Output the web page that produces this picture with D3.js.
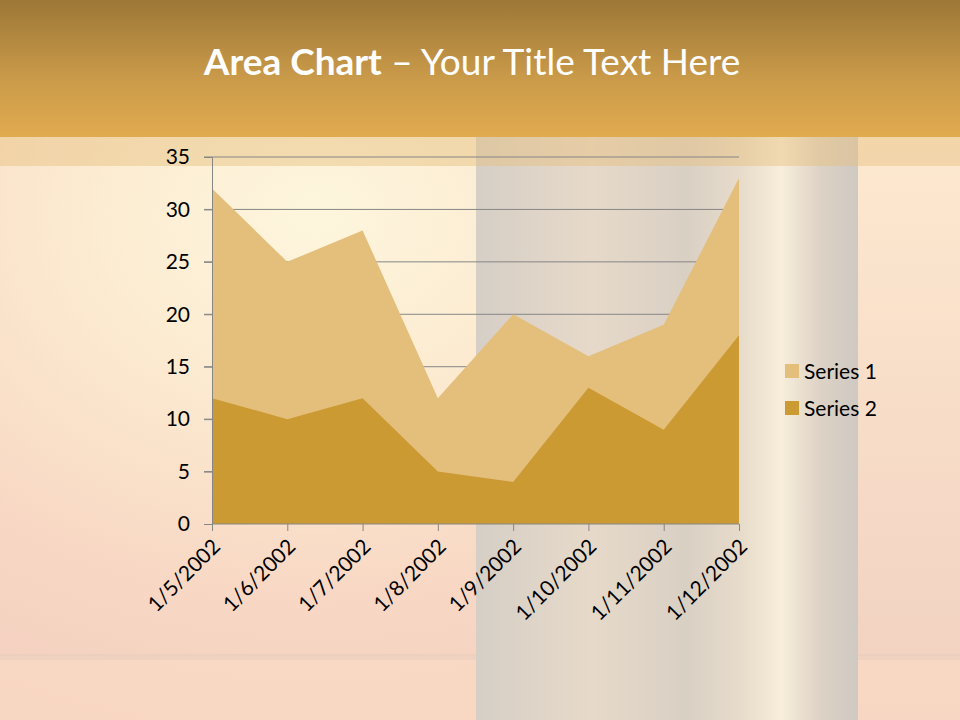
<!DOCTYPE html>
<html><head><meta charset="utf-8">
<script src="https://cdn.jsdelivr.net/npm/d3@7"></script>
<style>html,body{margin:0;padding:0;}svg{display:block;}</style>
</head><body>
<script>
const categories = ["1/5/2002","1/6/2002","1/7/2002","1/8/2002","1/9/2002","1/10/2002","1/11/2002","1/12/2002"];
const series1 = [32, 25, 28, 12, 20, 16, 19, 33];
const series2 = [12, 10, 12, 5, 4, 13, 9, 18];
const seriesNames = ["Series 1", "Series 2"];
const seriesColors = ["#e4be7b", "#cc9a33"];
const yTicks = [0, 5, 10, 15, 20, 25, 30, 35];

const W = 960, H = 720;
const svg = d3.select("body").append("svg").attr("width", W).attr("height", H);
const defs = svg.append("defs");
const font = "Lato, 'Open Sans', sans-serif";

// Background
const rg = defs.append("radialGradient").attr("id","bgrad").attr("cx","0.33").attr("cy","0.3").attr("r","0.75");
rg.append("stop").attr("offset","0").attr("stop-color","#fdf6dd");
rg.append("stop").attr("offset","0.3").attr("stop-color","#fcecd2");
rg.append("stop").attr("offset","0.7").attr("stop-color","#f8d8c4");
rg.append("stop").attr("offset","1").attr("stop-color","#f3cfbf");
svg.append("rect").attr("width",W).attr("height",H).attr("fill","url(#bgrad)");

// right side peach
const rside = defs.append("linearGradient").attr("id","rside").attr("x1",0).attr("y1",0).attr("x2",0).attr("y2",1);
rside.append("stop").attr("offset","0").attr("stop-color","#fde9d0");
rside.append("stop").attr("offset","1").attr("stop-color","#f1d0c0");
svg.append("rect").attr("x",858).attr("y",137).attr("width",102).attr("height",583).attr("fill","url(#rside)");

// bottom horizontal band
svg.append("rect").attr("x",0).attr("y",656).attr("width",W).attr("height",64).attr("fill","#fbdcc4").attr("opacity",0.6);
svg.append("rect").attr("x",0).attr("y",654).attr("width",W).attr("height",6).attr("fill","#e5cbbb").attr("opacity",0.5);

// pillar
const pg = defs.append("linearGradient").attr("id","pillar").attr("x1",0).attr("y1",0).attr("x2",1).attr("y2",0);
pg.append("stop").attr("offset","0").attr("stop-color","#d6cfc6");
pg.append("stop").attr("offset","0.3").attr("stop-color","#e6d9c9");
pg.append("stop").attr("offset","0.55").attr("stop-color","#d9d0c4");
pg.append("stop").attr("offset","0.7").attr("stop-color","#e8dccb");
pg.append("stop").attr("offset","0.8").attr("stop-color","#f8eedb");
pg.append("stop").attr("offset","0.9").attr("stop-color","#ddd2c5");
pg.append("stop").attr("offset","1").attr("stop-color","#cfc9c2");
svg.append("rect").attr("x",476).attr("y",137).attr("width",382).attr("height",583).attr("fill","url(#pillar)");

// header
const hg = defs.append("linearGradient").attr("id","hdr").attr("x1",0).attr("y1",0).attr("x2",0).attr("y2",1);
hg.append("stop").attr("offset","0").attr("stop-color","#9c7737");
hg.append("stop").attr("offset","0.6").attr("stop-color","#cc9c4a");
hg.append("stop").attr("offset","1").attr("stop-color","#e0aa4f");
svg.append("rect").attr("width",W).attr("height",137).attr("fill","url(#hdr)");
// translucent band
svg.append("rect").attr("x",0).attr("y",137).attr("width",W).attr("height",29).attr("fill","#e6bf7c").attr("opacity",0.45);

// title
const title = svg.append("text").attr("x",472).attr("y",75).attr("text-anchor","middle")
  .attr("fill","#ffffff").style("font-family",font).style("font-size","37px");
title.append("tspan").attr("font-weight","bold").text("Area Chart");
title.append("tspan").text(" \u2013 Your Title Text Here");

// scales
const x = d3.scalePoint().domain(categories).range([212, 739]);
const y = d3.scaleLinear().domain([0, 35]).range([524, 157]);

// gridlines
svg.append("g").selectAll("line").data(yTicks.filter(d => d > 0)).join("line")
  .attr("x1", 204).attr("x2", 739).attr("y1", d => y(d)).attr("y2", d => y(d))
  .attr("stroke", "#868686").attr("stroke-width", 1);

// areas
const area = d3.area().x((d, i) => x(categories[i])).y0(y(0)).y1(d => y(d));
[series1, series2].forEach((s, i) => {
  svg.append("path").datum(s).attr("d", area).attr("fill", seriesColors[i]);
});

// y axis
const yAxis = svg.append("g").attr("transform","translate(212,0)")
  .call(d3.axisLeft(y).tickValues(yTicks).tickSize(8).tickPadding(14));
yAxis.select(".domain").attr("stroke","#868686");
yAxis.selectAll(".tick line").attr("stroke","#868686");
yAxis.selectAll("text").style("font-family",font).style("font-size","21px").attr("fill","#000");

// x axis
const xAxis = svg.append("g").attr("transform","translate(0,524)")
  .call(d3.axisBottom(x).tickSize(7).tickSizeOuter(0));
xAxis.select(".domain").attr("stroke","#868686").attr("d","M212,0H739");
xAxis.selectAll(".tick line").attr("stroke","#868686");
xAxis.selectAll("text").style("font-family",font).style("font-size","21px").attr("fill","#000")
  .attr("text-anchor","end").attr("dy",null).attr("y",null)
  .attr("transform","translate(9,24) rotate(-45)");

// legend
const lg = svg.append("g");
seriesNames.forEach((n, i) => {
  const yy = 371 + i * 37;
  lg.append("rect").attr("x",785).attr("y",yy - 7).attr("width",14).attr("height",14).attr("fill",seriesColors[i]);
  lg.append("text").attr("x",804).attr("y",yy + 8).style("font-family",font).style("font-size","21px").attr("fill","#000").text(n);
});
</script>
</body></html>
